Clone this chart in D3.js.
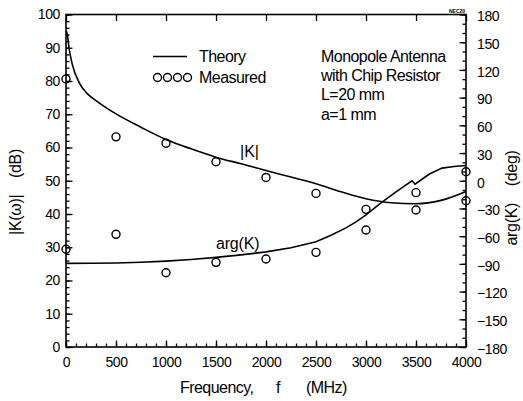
<!DOCTYPE html>
<html><head><meta charset="utf-8">
<script src="https://cdn.jsdelivr.net/npm/d3@7"></script>
<style>
body{margin:0;background:#fff}
text{font-family:"Liberation Sans",Arial,Helvetica,sans-serif;fill:#000}
</style>
</head><body>
<svg id="c" width="523" height="401"></svg>
<script>
// ---- data ----
const freqTicks = [0, 500, 1000, 1500, 2000, 2500, 3000, 3500, 4000];
const freqMinor = [0,100,200,300,400,500,600,700,800,900,1000,1100,1200,1300,1400,1500,1600,1700,1800,1900,2000,2100,2200,2300,2400,2500,2600,2700,2800,2900,3000,3100,3200,3300,3400,3500,3600,3700,3800,3900,4000];
const magTicks = [0, 10, 20, 30, 40, 50, 60, 70, 80, 90, 100];
const magMinor = [0,2,4,6,8,10,12,14,16,18,20,22,24,26,28,30,32,34,36,38,40,42,44,46,48,50,52,54,56,58,60,62,64,66,68,70,72,74,76,78,80,82,84,86,88,90,92,94,96,98,100];
const argTicks = [-180, -150, -120, -90, -60, -30, 0, 30, 60, 90, 120, 150, 180];
const argMinor = [-180,-170,-160,-150,-140,-130,-120,-110,-100,-90,-80,-70,-60,-50,-40,-30,-20,-10,0,10,20,30,40,50,60,70,80,90,100,110,120,130,140,150,160,170,180];

// Theory |K| (dB)
const theoryMagFreq = [3, 13, 30, 63, 130, 213, 300, 500, 750, 1000, 1250, 1500, 1750, 2000, 2250, 2500, 2750, 3000, 3250, 3500, 3750, 4000];
const theoryMag     = [95, 94, 90, 85, 79.6, 76.2, 74.1, 70.1, 66.1, 62.4, 59.6, 57.1, 55.1, 53.1, 51.1, 49.1, 46.7, 44.6, 43.4, 43.1, 44.1, 46.8];

// Theory arg(K) (deg)
const theoryArgFreq = [0, 250, 500, 750, 1000, 1250, 1500, 1750, 2000, 2250, 2500, 2650, 2800, 2900, 3000, 3150, 3300, 3460, 3490, 3630, 3760, 3880, 4000];
const theoryArg     = [-89.5, -89.3, -89, -88.2, -87, -85.3, -83, -80.3, -77, -72.5, -66, -59, -51, -44.5, -37, -24, -12, 0, -3.6, 7, 13.7, 15.5, 16.5];

// Measured
const measFreq = [0, 500, 1000, 1500, 2000, 2500, 3000, 3500, 4000];
const measMag  = [80.6, 63.2, 61.3, 55.7, 51.0, 46.2, 41.4, 41.2, 44.0];
const measArg  = [-74.2, -58.0, -99.6, -88.3, -84.7, -77.5, -53.3, -12.9, 9.8];

// ---- layout ----
const L = 66, R = 466, T = 14.5, B = 347;
const svg = d3.select("#c");
const x = d3.scaleLinear().domain([0, 4000]).range([L, R]);
const yL = d3.scaleLinear().domain([0, 100]).range([B, T]);
const yR = d3.scaleLinear().domain([-180, 180]).range([B, T]);
const FS = 14;

function styleAxis(g){
  g.select(".domain").remove();
  g.selectAll("line").attr("stroke","#000").attr("stroke-width",1.3);
  g.selectAll("text").style("font-size", FS+"px").style("letter-spacing","-0.4px").attr("fill","#000");
}

// minor ticks
svg.append("g").attr("transform",`translate(${L},0)`)
  .call(d3.axisLeft(yL).tickValues(magMinor).tickSize(-3.5).tickFormat("")).call(styleAxis);
svg.append("g").attr("transform",`translate(0,${B})`)
  .call(d3.axisBottom(x).tickValues(freqMinor).tickSize(-3.5).tickFormat("")).call(styleAxis);
svg.append("g").attr("transform",`translate(${R},0)`)
  .call(d3.axisRight(yR).tickValues(argMinor).tickSize(-3.5).tickFormat("")).call(styleAxis);

// major ticks + labels
svg.append("g").attr("transform",`translate(${L},0)`)
  .call(d3.axisLeft(yL).tickValues(magTicks).tickSize(-6.5).tickPadding(6).tickFormat(d3.format("d"))).call(styleAxis);
svg.append("g").attr("transform",`translate(0,${B})`)
  .call(d3.axisBottom(x).tickValues(freqTicks).tickSize(-6.5).tickPadding(10).tickFormat(d3.format("d"))).call(styleAxis);
svg.append("g").attr("transform",`translate(0,${T})`)
  .call(d3.axisTop(x).tickValues(freqTicks).tickSize(-6.5).tickFormat("")).call(styleAxis);
const rAx = svg.append("g").attr("transform",`translate(${R},0)`)
  .call(d3.axisRight(yR).tickValues(argTicks).tickSize(-6.5).tickPadding(11).tickFormat(d3.format("d"))).call(styleAxis);
rAx.selectAll("text").attr("dy","0.45em");

// frame
svg.append("rect").attr("x",L).attr("y",T).attr("width",R-L).attr("height",B-T)
  .attr("fill","none").attr("stroke","#000").attr("stroke-width",1.6);

// theory curves
svg.append("path")
  .datum(theoryMagFreq.map((f,i)=>[f,theoryMag[i]]))
  .attr("fill","none").attr("stroke","#000").attr("stroke-width",1.6)
  .attr("d", d3.line().x(d=>x(d[0])).y(d=>yL(d[1])).curve(d3.curveMonotoneX));
svg.append("path")
  .datum(theoryArgFreq.map((f,i)=>[f,theoryArg[i]]))
  .attr("fill","none").attr("stroke","#000").attr("stroke-width",1.6)
  .attr("d", d3.line().x(d=>x(d[0])).y(d=>yR(d[1])));

// measured
const rC = 4;
svg.append("g").selectAll("circle").data(measFreq.map((f,i)=>[f,measMag[i]])).join("circle")
  .attr("cx",d=>x(d[0])).attr("cy",d=>yL(d[1])).attr("r",rC)
  .attr("fill","none").attr("stroke","#000").attr("stroke-width",1.4);
svg.append("g").selectAll("circle").data(measFreq.map((f,i)=>[f,measArg[i]])).join("circle")
  .attr("cx",d=>x(d[0])).attr("cy",d=>yR(d[1])).attr("r",rC)
  .attr("fill","none").attr("stroke","#000").attr("stroke-width",1.4);

// legend
const TF = "16px", LS = "-0.55px";
svg.append("line").attr("x1",153).attr("x2",187).attr("y1",56.5).attr("y2",56.5)
  .attr("stroke","#000").attr("stroke-width",1.6);
svg.append("text").attr("x",199).attr("y",62).style("font-size",TF).style("letter-spacing",LS).text("Theory");
svg.append("g").selectAll("circle").data([0,1,2,3]).join("circle")
  .attr("cx",d=>157.5+d*10).attr("cy",77.5).attr("r",rC)
  .attr("fill","none").attr("stroke","#000").attr("stroke-width",1.4);
svg.append("text").attr("x",199).attr("y",83).style("font-size",TF).style("letter-spacing",LS).text("Measured");

// annotation
const notes = ["Monopole Antenna","with Chip Resistor","L=20 mm","a=1 mm"];
svg.append("g").selectAll("text").data(notes).join("text")
  .attr("x",321).attr("y",(d,i)=>61.7+i*19.3).style("font-size",TF).style("letter-spacing",LS).text(d=>d);

// curve labels
svg.append("text").attr("x",240).attr("y",156.5).style("font-size",TF).text("|K|");
svg.append("text").attr("x",216).attr("y",248.5).style("font-size",TF).style("letter-spacing","-0.2px").text("arg(K)");

// axis titles
svg.append("text").attr("x",180).attr("y",393).style("font-size",TF).style("letter-spacing",LS).text("Frequency,");
svg.append("text").attr("x",276).attr("y",393).style("font-size",TF).text("f");
svg.append("text").attr("x",306).attr("y",393).style("font-size",TF).style("letter-spacing",LS).text("(MHz)");

svg.append("text").attr("transform","translate(21,192) rotate(-90)").attr("text-anchor","middle")
  .style("font-size",TF).style("letter-spacing","-0.3px").attr("xml:space","preserve").text("|K(ω)|    (dB)");
svg.append("text").attr("transform","translate(517,198) rotate(-90)").attr("text-anchor","middle")
  .style("font-size",TF).style("letter-spacing","-0.3px").attr("xml:space","preserve").text("arg(K)    (deg)");

// tiny figure id
svg.append("text").attr("x",449).attr("y",13).style("font-size","5px").style("font-weight","bold").text("NEC20");
</script>
</body></html>
